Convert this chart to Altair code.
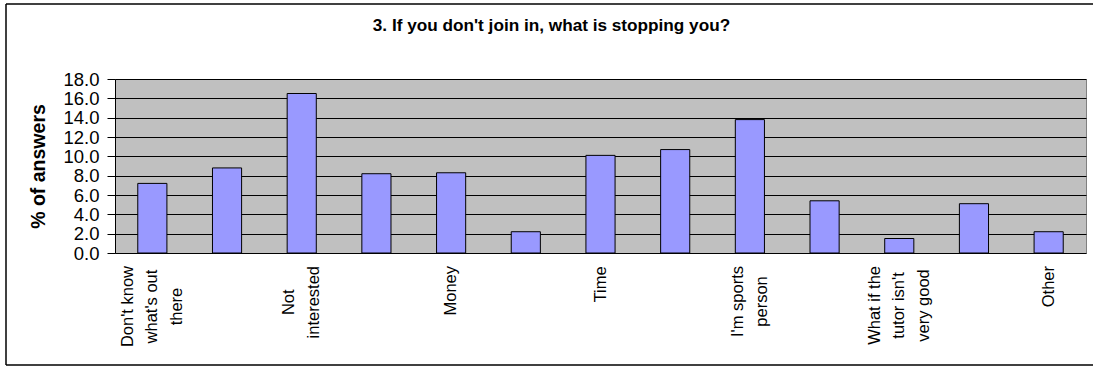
import altair as alt
import pandas as pd

# Survey question and answers (share of answers, %)
title_text = "3. If you don't join in, what is stopping you?"
axis_title = "% of answers"
labels = [
    ["Don't know", "what's out", "there"],
    [],
    ["Not", "interested"],
    [],
    ["Money"],
    [],
    ["Time"],
    [],
    ["I'm sports", "person"],
    [],
    ["What if the", "tutor isn't", "very good"],
    [],
    ["Other"],
]
percent = [7.2, 8.8, 16.5, 8.2, 8.3, 2.2, 10.1, 10.7, 13.8, 5.4, 1.5, 5.1, 2.2]
y_ticks = [0, 2, 4, 6, 8, 10, 12, 14, 16, 18]

# Layout (pixels)
W, H = 971, 174
PAD_L, PAD_T = 115, 79
FONT = "Liberation Sans"
X_LABEL_SIZE = 16.5
X_LABEL_LINE = 24.5
X_LABEL_GAP = 13
STEP = W / len(percent)

# Advance widths (per 1000 em) of the regular sans face, used to centre
# the lines of each category label below the axis
ADV = {" ": 278, "'": 191, "D": 722, "I": 278, "M": 833, "N": 722, "O": 778,
       "T": 611, "W": 944, "a": 556, "d": 556, "e": 556, "f": 278, "g": 556,
       "h": 556, "i": 222, "k": 500, "m": 833, "n": 556, "o": 556, "p": 556,
       "r": 333, "s": 500, "t": 278, "u": 556, "v": 500, "w": 722, "y": 500}


def text_width(s, size):
    return sum(ADV.get(c, 556) for c in s) * size / 1000.0


bars_df = pd.DataFrame({"idx": list(range(len(percent))), "percent": percent})

# One row per label line: rotated lines sit side by side, centred on the band
line_rows = []
for i, lines in enumerate(labels):
    if not lines:
        continue
    longest = max(text_width(s, X_LABEL_SIZE) for s in lines)
    n = len(lines)
    for k, s in enumerate(lines):
        line_rows.append({
            "idx": i,
            "line": s,
            "shift": STEP / 2.0 + (k - (n - 1) / 2.0) * X_LABEL_LINE,
            "label_y": H + X_LABEL_GAP + longest / 2.0,
        })
lines_df = pd.DataFrame(line_rows)

x_scale = alt.Scale(domain=list(range(len(percent))), paddingInner=0, paddingOuter=0)

bars = alt.Chart(bars_df).mark_bar(
    width=alt.RelativeBandSize(0.39), fill="#9999FF", stroke="black", strokeWidth=1
).encode(
    x=alt.X(
        "idx:O", scale=x_scale,
        axis=alt.Axis(labels=False, title=None, tickBand="extent", tickSize=6,
                      tickColor="black", domainColor="black", grid=False),
    ),
    y=alt.Y(
        "percent:Q",
        scale=alt.Scale(domain=[0, 18], nice=False, zero=True),
        axis=alt.Axis(
            values=y_ticks, format=".1f", labelFont=FONT, labelFontSize=18.5,
            labelColor="black", labelPadding=8, tickSize=8, tickColor="black",
            domainColor="black", gridColor="black", gridWidth=1,
            title=axis_title, titleFont=FONT, titleFontSize=19.5,
            titleFontWeight="bold", titleColor="black", titleAngle=270,
            titleAlign="center", titleBaseline="middle", titleX=-77, titleY=H / 2,
        ),
    ),
)

cat_labels = alt.Chart(lines_df).mark_text(
    angle=270, align="center", baseline="middle",
    font=FONT, fontSize=X_LABEL_SIZE, color="black",
).encode(
    x=alt.X("idx:O", scale=x_scale, axis=None),
    xOffset=alt.XOffset("shift:Q", scale=None),
    y=alt.Y("label_y:Q", scale=None, axis=None),
    text="line:N",
)

title = alt.Chart(pd.DataFrame({"t": [title_text]})).mark_text(
    font=FONT, fontSize=17.2, fontWeight="bold", color="black",
    align="center", baseline="alphabetic",
).encode(
    x=alt.value(551.5 - PAD_L), y=alt.value(31 - PAD_T), text="t:N"
)

# Chart frame: left, top and bottom edges (the right edge lies past the page)
frame_base = alt.Chart(pd.DataFrame({"f": [0]})).mark_rule(
    color="black", strokeWidth=1.5
)
frame_left = frame_base.encode(
    x=alt.value(6 - PAD_L), y=alt.value(4 - PAD_T), y2=alt.value(365 - PAD_T)
)
frame_top = frame_base.encode(
    x=alt.value(6 - PAD_L), x2=alt.value(1093 - PAD_L), y=alt.value(4 - PAD_T)
)
frame_bottom = frame_base.encode(
    x=alt.value(6 - PAD_L), x2=alt.value(1093 - PAD_L), y=alt.value(365 - PAD_T)
)

chart = alt.layer(
    bars, cat_labels, title, frame_left, frame_top, frame_bottom
).resolve_scale(
    y="independent"
).properties(
    width=W, height=H,
    autosize=alt.AutoSizeParams(type="none"),
    padding={"left": PAD_L, "top": PAD_T, "right": 1093 - PAD_L - W,
             "bottom": 368 - PAD_T - H},
    background="white",
).configure_view(
    fill="#C0C0C0", stroke="#808080", strokeWidth=1
)

chart.save("out.html", embed_options={"renderer": "svg", "actions": False})
